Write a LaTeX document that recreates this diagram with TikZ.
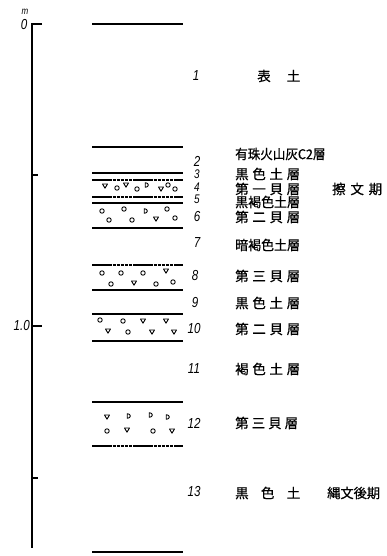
\documentclass[tikz,border=0pt]{standalone}
\usepackage{fontspec}
\usepackage{graphicx}
\setsansfont{Liberation Sans}
\newfontfamily\jfont[FakeBold=0.6]{Noto Sans CJK JP}
\tikzset{
  x=1pt, y=-1pt,
  bed/.style={line width=1.4pt},
  seam/.style={line width=1.1pt, dash pattern=on 3.5pt off 0.6pt},
  shell/.style={line width=0.9pt, line join=round},
  scaleline/.style={line width=1.3pt},
  num/.style={font=\sffamily\itshape\fontsize{14.5}{15}\selectfont, inner sep=0pt},
  numtight/.style={num, font=\sffamily\itshape\fontsize{12.5}{13}\selectfont},
  jlab/.style={font=\jfont\fontsize{13.5}{14}\selectfont, inner sep=0pt, anchor=west},
}
% stretch a label to a given width
\newcommand\spreadto[2]{\makebox[#1][s]{#2}}
% narrow italic numerals
\newcommand\nar[1]{\scalebox{0.8}[1]{#1}}
% shell fragments
\newcommand\shellO[1]{\draw[shell] (#1) circle (2.2);}
\newcommand\shellV[1]{\draw[shell] (#1) ++(-2.5,-2) -- ++(5,0) -- ++(-2.5,4.2) -- cycle;}
\newcommand\shellD[1]{\draw[shell] (#1) ++(-1.8,-2.3) -- ++(0,4.6) .. controls +(4.2,0) and +(4.2,0) .. ++(0,-4.6) -- cycle;}
\begin{document}
\begin{tikzpicture}
\useasboundingbox (0,0) rectangle (387,556);

% depth scale
\draw[scaleline] (42,24) -- (32,24) -- (32,548);
\draw[scaleline] (32,175) -- (38,175);
\draw[scaleline] (32,326) -- (42,326);
\draw[scaleline] (32,478) -- (38,478);
\node[num, font=\sffamily\itshape\fontsize{10}{10}\selectfont] (unit) at (25,12) {\nar{m}};
\node[num] (z0) at (24,25) {\nar{0}};
\node[num, anchor=east] (z1) at (30,326) {\nar{1.0}};

% layer boundaries
\draw[bed] (92,24) -- (183,24);
\draw[bed] (92,147) -- (183,147);
\draw[bed] (92,173) -- (183,173);
\draw[seam] (92,180) -- (183,180);
\draw[seam] (92,197) -- (183,197);
\draw[bed] (92,203) -- (183,203);
\draw[bed] (92,228) -- (183,228);
\draw[seam] (92,265) -- (183,265);
\draw[bed] (92,290) -- (183,290);
\draw[bed] (92,314) -- (183,314);
\draw[bed] (92,341) -- (183,341);
\draw[bed] (92,402) -- (183,402);
\draw[seam] (92,446) -- (183,446);
\draw[bed] (92,552) -- (183,552);

% shells, layer 4
\shellV{105,186} \shellO{117,188} \shellV{126,185} \shellO{137,189}
\shellD{147,185} \shellV{161,189} \shellO{168,185} \shellO{175,189}
% shells, layer 6
\shellO{102,211} \shellO{124,209} \shellD{146,211} \shellO{167,209}
\shellO{109,220} \shellO{132,220} \shellV{156,219} \shellO{175,218}
% shells, layer 8
\shellO{102,273} \shellO{121,273} \shellO{143,273} \shellV{166,271}
\shellO{111,284} \shellV{134,283} \shellO{156,284} \shellO{173,282}
% shells, layer 10
\shellO{100,320} \shellO{123,321} \shellV{143,321} \shellV{166,321}
\shellV{108,331} \shellO{128,332} \shellV{152,332} \shellV{174,332}
% shells, layer 12
\shellV{107,417} \shellD{129,416} \shellD{151,415} \shellD{168,417}
\shellO{107,431} \shellV{127,430} \shellO{153,431} \shellV{172,431}

% layer numbers
\node[num] (n1) at (196,76) {\nar{1}};
\node[num] (n2) at (197,161) {\nar{2}};
\node[numtight] (n3) at (197,174.5) {\nar{3}};
\node[numtight] (n4) at (197,187) {\nar{4}};
\node[numtight] (n5) at (197,199.5) {\nar{5}};
\node[num] (n6) at (197,217) {\nar{6}};
\node[num] (n7) at (197,243) {\nar{7}};
\node[num] (n8) at (195,276) {\nar{8}};
\node[num] (n9) at (195,303) {\nar{9}};
\node[num] (n10) at (194,329) {\nar{10}};
\node[num] (n11) at (194,369) {\nar{11}};
\node[num] (n12) at (194,423) {\nar{12}};
\node[num] (n13) at (194,492) {\nar{13}};

% layer names
\node[jlab] (t1) at (257,76) {\spreadto{43pt}{表\hfill 土}};
\node[jlab] (t2) at (235,154) {\scalebox{0.93}[1]{有珠火山灰C2層}};
\node[jlab] (t3) at (235,174) {\spreadto{65pt}{黒\hfill 色\hfill 土\hfill 層}};
\node[jlab] (t4) at (235,189) {\spreadto{65pt}{第\hfill 一\hfill 貝\hfill 層}};
\node[jlab] (t5) at (235,202) {\scalebox{0.96}[1]{黒褐色土層}};
\node[jlab] (t6) at (235,217) {\spreadto{65pt}{第\hfill 二\hfill 貝\hfill 層}};
\node[jlab] (t7) at (235,245) {\scalebox{0.96}[1]{暗褐色土層}};
\node[jlab] (t8) at (235,276) {\spreadto{65pt}{第\hfill 三\hfill 貝\hfill 層}};
\node[jlab] (t9) at (235,303) {\spreadto{65pt}{黒\hfill 色\hfill 土\hfill 層}};
\node[jlab] (t10) at (235,329) {\spreadto{65pt}{第\hfill 二\hfill 貝\hfill 層}};
\node[jlab] (t11) at (235,369) {\spreadto{65pt}{褐\hfill 色\hfill 土\hfill 層}};
\node[jlab] (t12) at (235,423) {\spreadto{63pt}{第\hfill 三\hfill 貝\hfill 層}};
\node[jlab] (t13) at (235,493) {\spreadto{65pt}{黒\hfill 色\hfill 土}};

% periods
\node[jlab] (p1) at (332,189) {\spreadto{50pt}{擦\hfill 文\hfill 期}};
\node[jlab] (p2) at (327,493) {\scalebox{0.98}[1]{縄文後期}};
\end{tikzpicture}
\end{document}
